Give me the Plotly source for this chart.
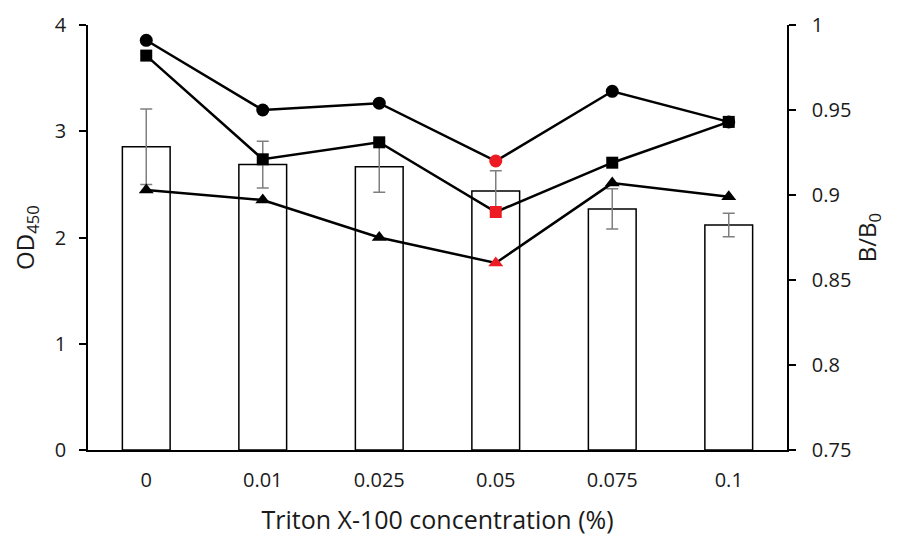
import plotly.graph_objects as go

categories = ["0", "0.01", "0.025", "0.05", "0.075", "0.1"]
od450 = [2.855, 2.686, 2.667, 2.438, 2.269, 2.118]
od450_err = [0.355, 0.22, 0.24, 0.19, 0.19, 0.11]
bb0_circle = [0.991, 0.950, 0.954, 0.920, 0.961, 0.943]
bb0_square = [0.982, 0.921, 0.931, 0.890, 0.919, 0.943]
bb0_triangle = [0.903, 0.897, 0.875, 0.860, 0.907, 0.899]
highlight_index = 3

BLACK = "#000000"
RED = "#ED1C24"
FONT = "Open Sans"
TXT = "#1a1a1a"

def colors():
    return [RED if i == highlight_index else BLACK for i in range(len(categories))]

fig = go.Figure()
fig.add_trace(go.Bar(
    x=categories, y=od450, width=0.41,
    marker=dict(color="white", line=dict(color=BLACK, width=1.5)),
    error_y=dict(type="data", array=od450_err, color="#7f7f7f", thickness=1.5, width=6),
    showlegend=False,
))
for vals, sym, size in [(bb0_circle, "circle", 13), (bb0_square, "square", 12), (bb0_triangle, "triangle-up", 13)]:
    fig.add_trace(go.Scatter(
        x=categories, y=vals, yaxis="y2", mode="lines+markers",
        line=dict(color=BLACK, width=2.5),
        marker=dict(symbol=sym, size=size, color=colors(), line=dict(width=0)),
        showlegend=False,
    ))

axis_common = dict(showline=True, linecolor=BLACK, linewidth=1.5, showgrid=False, zeroline=False,
                   ticks="outside", ticklen=7, tickcolor=BLACK, tickwidth=1.5, automargin=False,
                   tickfont=dict(family=FONT, size=20, color=TXT))

fig.update_layout(
    width=890, height=528,
    margin=dict(l=80, r=111, t=17, b=86),
    plot_bgcolor="white", paper_bgcolor="white",
    xaxis=dict(showline=True, linecolor=BLACK, linewidth=1.5, showgrid=False, zeroline=False,
               ticks="", tickfont=dict(family=FONT, size=20, color=TXT), automargin=False,
               range=[-0.5, 5.5], ticklabelstandoff=11,
               title=dict(text="Triton X-100 concentration (%)", font=dict(family=FONT, size=25, color=TXT), standoff=24)),
    yaxis=dict(**axis_common, range=[0, 4], tickvals=[0, 1, 2, 3, 4], ticklabelstandoff=9,
               title=dict(text="OD<sub>450</sub>", font=dict(family=FONT, size=24, color=TXT), standoff=24)),
    yaxis2=dict(**axis_common, range=[0.75, 1], overlaying="y", side="right",
                tickvals=[0.75, 0.8, 0.85, 0.9, 0.95, 1], ticktext=["0.75", "0.8", "0.85", "0.9", "0.95", "1"],
                ticklabelstandoff=12,
                title=dict(text="B/B<sub>0</sub>", font=dict(family=FONT, size=24, color=TXT), standoff=9)),
)

fig.write_html("out.html")
